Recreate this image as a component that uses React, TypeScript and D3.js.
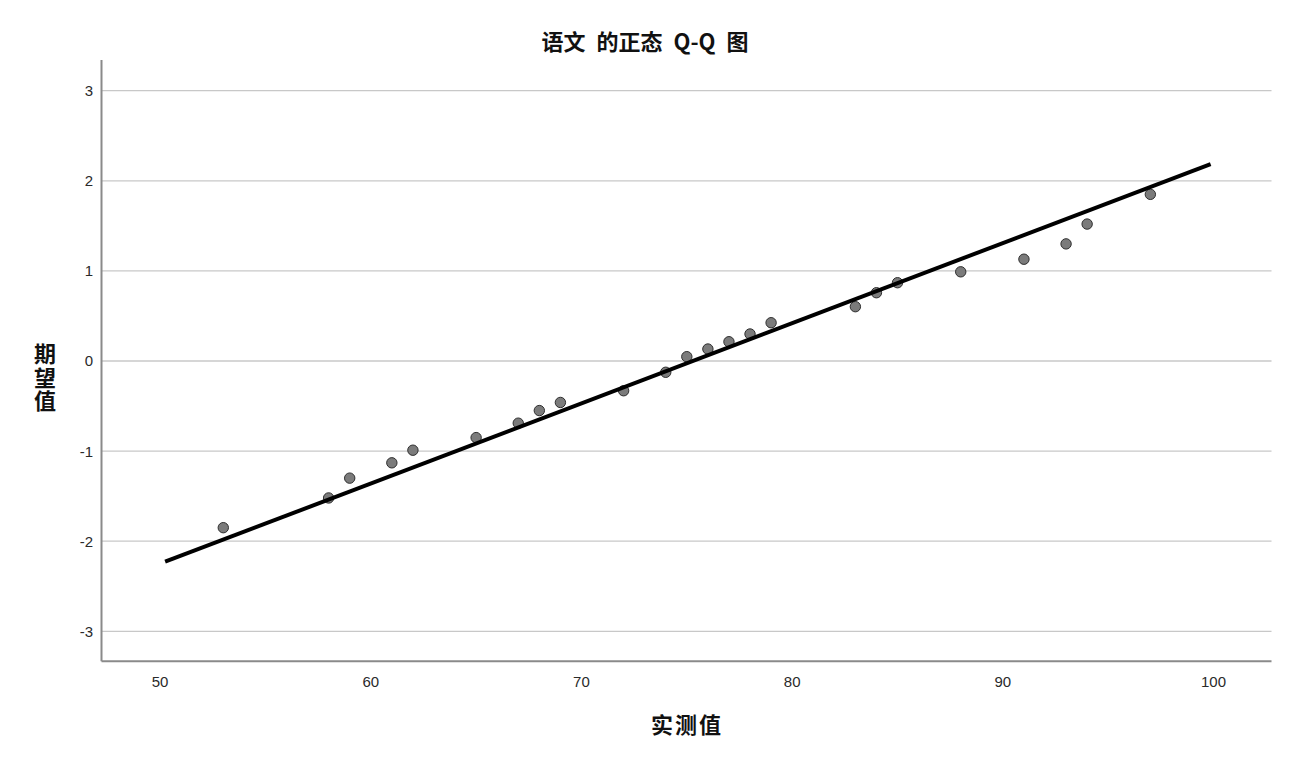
import React from "react";
import * as d3 from "d3";

const observed = [53, 58, 59, 61, 62, 65, 67, 68, 69, 72, 74, 75, 76, 77, 78, 79, 83, 84, 85, 88, 91, 93, 94, 97];
const expected = [-1.85, -1.52, -1.3, -1.13, -0.99, -0.85, -0.69, -0.55, -0.46, -0.33, -0.125, 0.048, 0.133, 0.214, 0.3, 0.425, 0.603, 0.758, 0.869, 0.99, 1.13, 1.3, 1.52, 1.85];
const lineX = [50.24, 99.86];
const lineY = [-2.228, 2.186];
const xTicks = [50, 60, 70, 80, 90, 100];
const yTicks = [-3, -2, -1, 0, 1, 2, 3];
const title = "语文 的正态 Q-Q 图";
const xLabel = "实测值";
const yLabel = "期望值";

const W = 1290;
const H = 763;
const left = 101.5;
const right = 1271.5;
const top = 60;
const bottom = 661.3;

export default function App() {
  const x = d3.scaleLinear().domain([47.22, 102.75]).range([left, right]);
  const y = d3.scaleLinear().domain([-3.333, 3.341]).range([bottom, top]);
  const line = d3
    .line<number>()
    .x((_, i) => x(lineX[i]))
    .y((_, i) => y(lineY[i]));
  const cjk = "'Noto Sans CJK SC', 'Noto Sans', sans-serif";
  const latin = "'Liberation Sans', Arial, sans-serif";
  return (
    <svg
      width={W}
      height={H}
      style={{ position: "absolute", left: 0, top: 0, background: "#fff" }}
    >
      <rect x={0} y={0} width={W} height={H} fill="#fff" />
      <text x={645} y={50} textAnchor="middle" fontFamily={cjk} fontWeight="bold" fontSize={22} wordSpacing={6} fill="#111">
        {title}
      </text>
      {yTicks.map((t) => (
        <g key={t}>
          <line x1={left} x2={right} y1={y(t)} y2={y(t)} stroke="#c8c8c8" strokeWidth={1.3} />
          <text x={93} y={y(t)} dy="0.36em" textAnchor="end" fontFamily={latin} fontSize={15} fill="#2a2a2a">
            {t}
          </text>
        </g>
      ))}
      {xTicks.map((t) => (
        <text key={t} x={x(t)} y={687} textAnchor="middle" fontFamily={latin} fontSize={15} fill="#2a2a2a">
          {t}
        </text>
      ))}
      <line x1={left} x2={left} y1={top} y2={bottom} stroke="#8a8a8a" strokeWidth={2} />
      <line x1={left} x2={right} y1={bottom} y2={bottom} stroke="#8a8a8a" strokeWidth={2} />
      {observed.map((v, i) => (
        <circle key={i} cx={x(v)} cy={y(expected[i])} r={5.2} fill="#7b7b7b" stroke="#2e2e2e" strokeWidth={1} />
      ))}
      <path d={line(lineX) || ""} fill="none" stroke="#000" strokeWidth={4} />
      <text x={687} y={733} textAnchor="middle" fontFamily={cjk} fontWeight="bold" fontSize={22} letterSpacing={2} fill="#111">
        {xLabel}
      </text>
      <text
        x={45}
        y={343}
        style={{ writingMode: "vertical-rl" }}
        fontFamily={cjk}
        fontWeight="bold"
        fontSize={22}
        letterSpacing={1.5}
        fill="#111"
      >
        {yLabel}
      </text>
    </svg>
  );
}
